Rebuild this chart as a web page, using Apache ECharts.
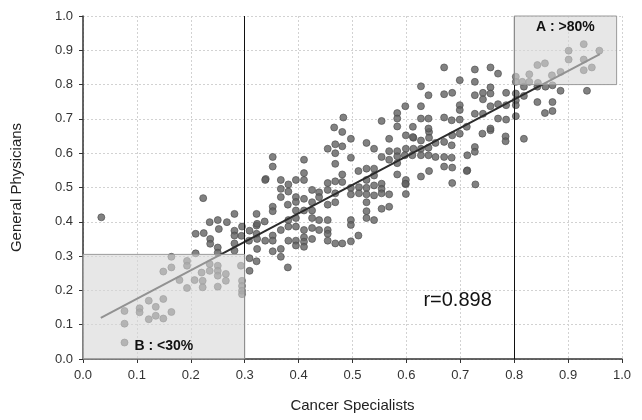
<!DOCTYPE html>
<html>
<head>
<meta charset="utf-8">
<script src="https://cdn.jsdelivr.net/npm/echarts@6/dist/echarts.min.js"></script>
<style>html,body{margin:0;padding:0;background:#fff}#c{width:642px;height:420px}</style>
</head>
<body>
<div id="c"></div>
<script>
// Cancer Specialists (x) and General Physicians (y) proportions
var specialists = [
0.034,0.235,0.25,0.267,0.281,0.322,0.252,0.209,0.224,0.236,0.236,0.281,0.281,0.295,0.309,0.322,0.322,0.281,0.25,0.25,
0.281,0.209,0.309,0.322,0.309,0.164,0.193,0.193,0.164,0.149,0.235,0.235,0.22,0.25,0.25,0.25,0.265,0.265,0.295,0.295,
0.295,0.295,0.179,0.207,0.222,0.222,0.193,0.25,0.122,0.149,0.105,0.135,0.077,0.105,0.164,0.135,0.122,0.149,0.077,0.077,
0.339,0.223,0.323,0.337,0.294,0.323,0.308,0.323,0.293,
0.481,0.497,0.454,0.468,0.481,0.468,0.526,0.54,0.568,0.599,0.613,0.627,0.642,0.642,0.654,0.352,0.352,0.41,0.468,0.497,
0.568,0.583,0.599,0.613,0.627,0.641,0.554,0.568,0.583,0.583,0.597,0.611,0.627,0.641,0.654,0.338,0.367,0.395,0.41,0.41,
0.481,0.481,0.468,0.511,0.526,0.54,0.54,0.526,0.583,0.599,0.599,0.627,0.642,0.367,0.381,0.381,0.367,0.425,0.438,0.438,
0.454,0.454,0.468,0.497,0.497,0.512,0.512,0.526,0.526,0.54,0.54,0.554,0.554,0.554,0.568,0.599,0.395,0.395,0.41,0.38,
0.425,0.454,0.468,0.352,0.352,0.526,0.526,0.526,0.54,0.554,0.568,0.395,0.395,0.41,0.425,0.425,0.438,0.454,0.497,0.497,
0.381,0.381,0.367,0.395,0.41,0.425,0.438,0.454,0.454,0.511,0.352,0.352,0.338,0.381,0.395,0.395,0.41,0.41,0.41,0.425,
0.454,0.468,0.481,0.497,0.352,0.367,0.367,0.38,
0.929,0.901,0.958,0.901,0.929,0.843,0.857,0.886,0.929,0.944,0.828,0.87,0.815,0.828,0.844,0.818,0.843,0.858,0.871,0.886,
0.935,0.818,0.843,0.871,0.857,0.871,0.818,0.803,0.803,0.803,0.803,0.803,0.803,0.785,0.785,0.785,0.784,0.784,0.77,0.77,
0.756,0.756,0.756,0.756,0.77,0.742,0.742,0.742,0.756,0.741,0.727,0.727,0.727,0.727,0.727,0.727,0.713,0.713,0.699,0.699,
0.699,0.699,0.699,0.685,0.684,0.684,0.684,0.685,0.67,0.67,0.67,0.67,0.67,
0.627,0.598,0.627,0.641,0.612,0.612,0.641,0.641,0.627,0.712,0.685,0.756,0.728,0.685,0.598,0.67,0.712,
0.583,0.583,0.483,0.554,0.466,0.583
];
var physicians = [
0.413,0.399,0.405,0.399,0.423,0.423,0.379,0.365,0.367,0.35,0.336,0.374,0.36,0.386,0.374,0.389,0.365,0.337,0.325,0.31,
0.316,0.308,0.294,0.285,0.257,0.298,0.286,0.272,0.267,0.255,0.277,0.257,0.252,0.272,0.257,0.243,0.248,0.228,0.228,0.213,
0.199,0.189,0.23,0.23,0.228,0.209,0.207,0.211,0.17,0.175,0.148,0.152,0.14,0.136,0.137,0.126,0.116,0.118,0.103,0.048,
0.525,0.469,0.394,0.401,0.359,0.321,0.345,0.35,0.272,
0.662,0.642,0.613,0.626,0.62,0.6,0.63,0.613,0.642,0.652,0.645,0.637,0.662,0.645,0.63,0.589,0.561,0.581,0.569,0.587,
0.606,0.606,0.613,0.613,0.613,0.616,0.589,0.581,0.591,0.571,0.594,0.594,0.594,0.594,0.589,0.522,0.522,0.522,0.542,0.522,
0.538,0.516,0.518,0.548,0.555,0.555,0.535,0.522,0.538,0.522,0.51,0.532,0.548,0.496,0.509,0.488,0.472,0.493,0.486,0.472,
0.513,0.493,0.483,0.499,0.48,0.501,0.483,0.499,0.48,0.506,0.477,0.511,0.496,0.483,0.48,0.481,0.472,0.458,0.467,0.45,
0.457,0.45,0.457,0.444,0.431,0.457,0.431,0.411,0.405,0.438,0.444,0.433,0.411,0.433,0.433,0.411,0.405,0.405,0.405,0.391,
0.405,0.386,0.376,0.386,0.376,0.382,0.376,0.376,0.365,0.36,0.36,0.345,0.345,0.345,0.345,0.331,0.355,0.342,0.327,0.35,
0.345,0.337,0.337,0.343,0.314,0.321,0.298,0.267,
0.918,0.899,0.899,0.873,0.873,0.857,0.862,0.837,0.842,0.85,0.83,0.827,0.808,0.808,0.805,0.794,0.794,0.794,0.798,0.782,
0.782,0.767,0.749,0.749,0.717,0.723,0.642,0.823,0.808,0.774,0.754,0.74,0.708,0.776,0.74,0.698,0.649,0.635,0.743,0.701,
0.85,0.792,0.774,0.737,0.832,0.776,0.757,0.715,0.667,0.657,0.844,0.808,0.769,0.715,0.618,0.604,0.594,0.55,0.813,0.74,
0.726,0.698,0.657,0.776,0.696,0.623,0.587,0.558,0.85,0.772,0.704,0.633,0.561,
0.795,0.737,0.737,0.769,0.677,0.647,0.701,0.672,0.701,0.677,0.652,0.672,0.509,0.513,0.511,0.589,0.548,
0.717,0.701,0.704,0.694,0.675,0.678
];
// fitted line endpoints as drawn
var fitX = [0.033, 0.959];
var fitY = [0.12, 0.889];
// threshold lines on the specialists axis
var thresholds = [0.3, 0.8];
// highlighted groups: [xFrom, yFrom, xTo, yTo]
var boxB = [0, 0, 0.3, 0.305];
var boxA = [0.8, 0.8, 0.99, 1.0];
var boxLabels = ['B : <30%', 'A : >80%'];
var rText = 'r=0.898';
var rPos = [0.695, 0.17];

var points = specialists.map(function (x, i) { return [x, physicians[i]]; });
var fitData = fitX.map(function (x, i) { return [x, fitY[i]]; });

var font = '"Liberation Sans", Arial, sans-serif';
function axis(name, isY) {
  return {
    type: 'value', min: 0, max: 1, interval: 0.1,
    name: name, nameLocation: 'middle', nameGap: isY ? 59 : 39,
    nameTextStyle: { fontFamily: font, fontSize: 15, color: '#222' },
    axisLine: { show: true, lineStyle: { color: '#333', width: 1.5 } },
    axisTick: { show: true, length: 4, lineStyle: { color: '#333' } },
    axisLabel: { fontFamily: font, fontSize: 13, color: '#333', margin: 10,
      formatter: function (v) { return v.toFixed(1); } },
    splitLine: { show: true, lineStyle: { color: '#d2d2d2', type: [2, 2], width: 1 } }
  };
}

var chart = echarts.init(document.getElementById('c'), null, { renderer: 'canvas' });
chart.setOption({
  animation: false,
  backgroundColor: '#fff',
  grid: { left: 83, right: 20, top: 16, bottom: 61, containLabel: false },
  xAxis: axis('Cancer Specialists', false),
  yAxis: axis('General Physicians', true),
  series: [
    {
      type: 'scatter', z: 2,
      data: points,
      symbolSize: 7,
      itemStyle: { color: '#626262', borderColor: '#4a4a4a', borderWidth: 0.8 }
    },
    {
      type: 'line', z: 3,
      data: fitData,
      symbol: 'none',
      lineStyle: { color: '#2b2b2b', width: 2 },
      markLine: {
        silent: true, symbol: ['none', 'none'], label: { show: false },
        lineStyle: { color: '#111', width: 1, type: 'solid' },
        data: thresholds.map(function (t) { return { xAxis: t }; })
      },
      markPoint: {
        symbol: 'circle', symbolSize: 0,
        label: { show: true, formatter: rText, fontFamily: font, fontSize: 20, color: '#111' },
        data: [{ coord: rPos }]
      }
    },
    {
      type: 'line', z: 5, data: [],
      markArea: {
        silent: true, z: 10,
        itemStyle: { color: 'rgba(215,215,215,0.6)', borderColor: '#9a9a9a', borderWidth: 1 },
        label: { show: true, fontFamily: font, fontSize: 14, fontWeight: 'bold', color: '#111' },
        data: [
          [{ coord: [boxB[0], boxB[1]], name: boxLabels[0], label: { position: 'insideBottom', distance: 6 } },
           { coord: [boxB[2], boxB[3]] }],
          [{ coord: [boxA[0], boxA[1]], name: boxLabels[1], label: { position: 'insideTop', distance: 5 } },
           { coord: [boxA[2], boxA[3]] }]
        ]
      }
    }
  ]
});
</script>
</body>
</html>
